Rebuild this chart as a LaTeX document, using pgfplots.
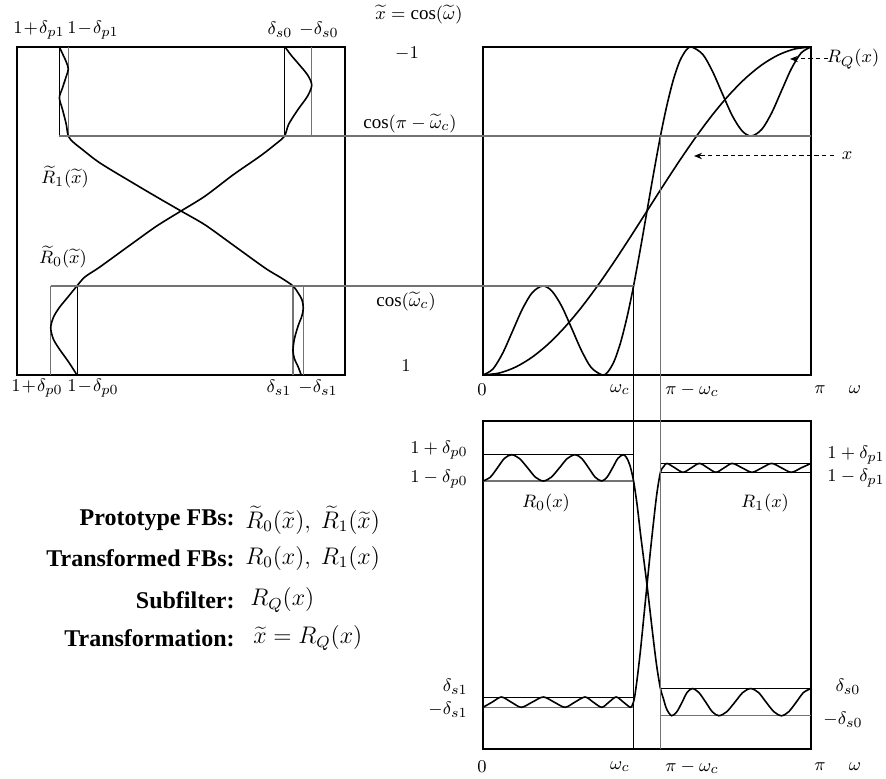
\documentclass[border=0pt]{standalone}
\usepackage{fontspec}
\setmainfont{Liberation Serif}
\usepackage{pgfplots}
\pgfplotsset{compat=1.18}
\usetikzlibrary{arrows.meta}
\pgfplotsset{panel/.style={scale only axis, width=164pt, height=164pt, ticks=none, clip=false,
  axis line style={line width=0.9pt}}}
\tikzset{crv/.style={black, line width=0.8pt, smooth, mark=none},
  gl/.style={black, line width=0.45pt},
  gg/.style={black!55, line width=0.6pt}}
\begin{document}
\begin{tikzpicture}
% ---------------- left panel: prototype filters vs x~
\begin{axis}[panel, at={(8.5pt,-23.5pt)}, anchor=north west,
  xmin=-0.2, xmax=1.2, x dir=reverse, ymin=-1, ymax=1, y dir=reverse]
  \draw[gl] (axis cs:1.019,-1) -- (axis cs:1.019,-0.457);
  \draw[gg] (axis cs:0.981,-1) -- (axis cs:0.981,-0.457);
  \draw[gl] (axis cs:0.058,-1) -- (axis cs:0.058,-0.457);
  \draw[gg] (axis cs:-0.058,-1) -- (axis cs:-0.058,-0.457);
  \draw[gg] (axis cs:1.056,0.457) -- (axis cs:1.056,1);
  \draw[gl] (axis cs:0.944,0.457) -- (axis cs:0.944,1);
  \draw[gg] (axis cs:0.022,0.457) -- (axis cs:0.022,1);
  \draw[gg] (axis cs:-0.022,0.457) -- (axis cs:-0.022,1);
  % R~1
  \addplot[crv] coordinates {
    (1.019,-1.000) (1.006,-0.96) (0.990,-0.91) (0.981,-0.866) (0.990,-0.82)
    (1.006,-0.75) (1.019,-0.69) (1.006,-0.62) (0.990,-0.53) (0.981,-0.457)
    (0.960,-0.42) (0.930,-0.385) (0.846,-0.293) (0.705,-0.171) (0.603,-0.085)
    (0.500,0.000) (0.397,0.085) (0.278,0.207) (0.141,0.348) (0.070,0.41)
    (0.022,0.457) (0.000,0.50) (-0.016,0.54) (-0.022,0.59) (-0.016,0.64)
    (0.000,0.70) (0.016,0.78) (0.022,0.85) (0.016,0.90) (0.000,0.95) (-0.013,1.00)};
  % R~0
  \addplot[crv] coordinates {
    (0.056,-1.000) (0.030,-0.95) (0.000,-0.90) (-0.040,-0.83) (-0.058,-0.768)
    (-0.040,-0.70) (0.000,-0.62) (0.040,-0.53) (0.058,-0.457)
    (0.090,-0.415) (0.162,-0.335) (0.278,-0.220) (0.397,-0.091) (0.500,0.000)
    (0.603,0.091) (0.705,0.195) (0.846,0.341) (0.910,0.402) (0.944,0.457)
    (0.980,0.52) (1.020,0.59) (1.045,0.65) (1.056,0.713) (1.045,0.78)
    (1.020,0.84) (0.980,0.92) (0.944,1.000)};
  \coordinate (Ahl) at (axis cs:1.019,-0.457);
  \coordinate (Bhl) at (axis cs:1.056,0.457);
\end{axis}
% ---------------- top right panel: R_Q(x) and x vs omega
\begin{axis}[panel, at={(241.5pt,-23.5pt)}, anchor=north west,
  xmin=0, xmax=1, ymin=-1, ymax=1, y dir=reverse]
  \addplot[crv] coordinates {
    (0,1) (0.03,0.964) (0.06,0.867) (0.09,0.733) (0.12,0.598) (0.15,0.498)
    (0.182,0.457) (0.21,0.488) (0.24,0.581) (0.27,0.714) (0.30,0.850) (0.33,0.955)
    (0.364,1) (0.38,0.983) (0.40,0.915) (0.42,0.798) (0.44,0.639) (0.459,0.457)
    (0.48,0.229) (0.50,0) (0.52,-0.229) (0.541,-0.457) (0.56,-0.639) (0.58,-0.798)
    (0.60,-0.915) (0.62,-0.983) (0.636,-1) (0.67,-0.955) (0.70,-0.850) (0.73,-0.714)
    (0.76,-0.581) (0.79,-0.488) (0.818,-0.457) (0.85,-0.498) (0.88,-0.598)
    (0.91,-0.733) (0.94,-0.867) (0.97,-0.964) (1,-1)};
  \addplot[crv] coordinates {
    (0,1) (0.05,0.9877) (0.1,0.9511) (0.15,0.8910) (0.2,0.8090) (0.25,0.7071)
    (0.3,0.5878) (0.35,0.4540) (0.4,0.3090) (0.45,0.1564) (0.5,0) (0.55,-0.1564)
    (0.6,-0.3090) (0.65,-0.4540) (0.7,-0.5878) (0.75,-0.7071) (0.8,-0.8090)
    (0.85,-0.8910) (0.9,-0.9511) (0.95,-0.9877) (1,-1)};
  \coordinate (Ahr) at (axis cs:1,-0.457);
  \coordinate (Bhr) at (axis cs:0.459,0.457);
  \coordinate (Vc2) at (axis cs:0.541,-0.457);
\end{axis}
% ---------------- bottom right panel: R0(x), R1(x) vs omega
\begin{axis}[panel, at={(241.5pt,-210.5pt)}, anchor=north west,
  xmin=0, xmax=1, ymin=-0.2, ymax=1.2]
  \draw[gl] (axis cs:0,1.056) -- (axis cs:0.459,1.056);
  \draw[gg] (axis cs:0,0.944) -- (axis cs:0.459,0.944);
  \draw[gl] (axis cs:0,0.022) -- (axis cs:0.459,0.022);
  \draw[gg] (axis cs:0,-0.022) -- (axis cs:0.459,-0.022);
  \draw[gl] (axis cs:0.541,1.019) -- (axis cs:1,1.019);
  \draw[gl] (axis cs:0.541,0.981) -- (axis cs:1,0.981);
  \draw[gl] (axis cs:0.541,0.058) -- (axis cs:1,0.058);
  \draw[gg] (axis cs:0.541,-0.058) -- (axis cs:1,-0.058);
  % R0
  \addplot[crv] coordinates {
    (0,0.944) (0.022,0.960) (0.044,1.000) (0.065,1.040) (0.087,1.056) (0.111,1.040)
    (0.136,1.000) (0.160,0.960) (0.184,0.944) (0.208,0.960) (0.233,1.000) (0.257,1.040)
    (0.281,1.056) (0.301,1.040) (0.322,1.000) (0.342,0.960) (0.362,0.944) (0.378,0.960)
    (0.395,1.000) (0.411,1.040) (0.427,1.056) (0.437,1.045) (0.448,1.010) (0.459,0.944)
    (0.470,0.84) (0.480,0.72) (0.490,0.61) (0.500,0.50) (0.510,0.38) (0.520,0.26)
    (0.530,0.15) (0.541,0.058) (0.550,0.015) (0.560,-0.030) (0.575,-0.058)
    (0.591,-0.041) (0.607,0.000) (0.622,0.041) (0.638,0.058) (0.658,0.041)
    (0.679,0.000) (0.699,-0.041) (0.719,-0.058) (0.743,-0.041) (0.768,0.000)
    (0.792,0.041) (0.816,0.058) (0.840,0.041) (0.863,0.000) (0.887,-0.041)
    (0.910,-0.058) (0.932,-0.041) (0.955,0.000) (0.977,0.041) (1.000,0.058)};
  % R1
  \addplot[crv] coordinates {
    (0,-0.022) (0.028,0) (0.056,0.022) (0.086,0) (0.117,-0.022) (0.150,0)
    (0.184,0.022) (0.217,0) (0.250,-0.022) (0.280,0) (0.311,0.022) (0.336,0)
    (0.362,-0.022) (0.384,0) (0.406,0.022) (0.428,0) (0.449,-0.022)
    (0.456,-0.010) (0.462,0.02) (0.470,0.10) (0.480,0.22) (0.490,0.36) (0.500,0.50)
    (0.510,0.64) (0.520,0.77) (0.530,0.89) (0.541,0.981) (0.551,1.006) (0.561,1.019)
    (0.585,1.000) (0.610,0.981) (0.635,1.000) (0.660,1.019) (0.685,1.000) (0.710,0.981)
    (0.735,1.000) (0.760,1.019) (0.790,1.000) (0.820,0.981) (0.850,1.000) (0.880,1.019)
    (0.910,1.000) (0.940,0.981) (0.970,1.000) (1.000,1.019)};
  \coordinate (Wc1) at (axis cs:0.459,-0.2);
  \coordinate (Wc2) at (axis cs:0.541,-0.2);
\end{axis}
% guide lines across panels
\draw[gg] (Ahl) -- (Ahr);
\draw[gg] (Bhl) -- (Bhr);
\draw[gl] (Bhr) -- (Wc1);
\draw[gg, line width=0.8pt] (Vc2) -- (Wc2);
% labels (pixel coordinates)
\begin{scope}[x=0.5pt, y=-0.5pt, every node/.style={font=\fontsize{9.5}{11}\selectfont, inner sep=0pt}]
  \path (0,0) rectangle (886,779);
  \node at (39,30) {$1\!+\!\delta_{p1}$};
  \node at (93,30) {$1\!-\!\delta_{p1}$};
  \node at (280,30) {$\delta_{s0}$};
  \node at (319,30) {$-\delta_{s0}$};
  \node at (37,388) {$1\!+\!\delta_{p0}$};
  \node at (93,388) {$1\!-\!\delta_{p0}$};
  \node at (279,388) {$\delta_{s1}$};
  \node at (318,388) {$-\delta_{s1}$};
  \node at (65,177) {$\widetilde{R}_1(\widetilde{x})$};
  \node at (63,257) {$\widetilde{R}_0(\widetilde{x})$};
  \node at (419,15) {$\widetilde{x}=\cos(\widetilde{\omega})$};
  \node at (407,54) {$-1$};
  \node at (410,124) {$\cos(\pi-\widetilde{\omega}_c)$};
  \node at (406,302) {$\cos(\widetilde{\omega}_c)$};
  \node at (406,366) {$1$};
  \foreach \yy in {390,767} {
    \node at (482,\yy) {$0$};
    \node at (620,\yy) {$\omega_c$};
    \node at (692,\yy) {$\pi-\omega_c$};
    \node at (820,\yy) {$\pi$};
    \node at (855,\yy) {$\omega$};
  }
  \node[anchor=east] at (468,450) {$1+\delta_{p0}$};
  \node[anchor=east] at (468,479) {$1-\delta_{p0}$};
  \node[anchor=east] at (468,687) {$\delta_{s1}$};
  \node[anchor=east] at (468,710) {$-\delta_{s1}$};
  \node[anchor=west] at (827,455) {$1+\delta_{p1}$};
  \node[anchor=west] at (827,478) {$1-\delta_{p1}$};
  \node at (848,687) {$\delta_{s0}$};
  \node at (843,720) {$-\delta_{s0}$};
  \node at (546,503) {$R_0(x)$};
  \node at (765,503) {$R_1(x)$};
  \node at (853,59) {$R_Q(x)$};
  \node at (847,156) {$x$};
  \draw[line width=0.5pt, dash pattern=on 2.2pt off 1.6pt, -{Stealth[length=4pt,width=3.2pt]}] (828,59) -- (790,59);
  \draw[line width=0.5pt, dash pattern=on 2.2pt off 1.6pt, -{Stealth[length=4pt,width=3.2pt]}] (834,156) -- (694,156);
  \begin{scope}[every node/.style={font=\fontsize{12}{14}\selectfont, inner sep=0pt}]
    \node[anchor=east] at (235,520) {\textbf{Prototype FBs:}};
    \node[anchor=west] at (245,520) {$\widetilde{R}_0(\widetilde{x}),\ \widetilde{R}_1(\widetilde{x})$};
    \node[anchor=east] at (235,558) {\textbf{Transformed FBs:}};
    \node[anchor=west] at (245,558) {$R_0(x),\ R_1(x)$};
    \node[anchor=east] at (235,600) {\textbf{Subfilter:}};
    \node[anchor=west] at (250,600) {$R_Q(x)$};
    \node[anchor=east] at (235,638) {\textbf{Transformation:}};
    \node[anchor=west] at (253,638) {$\widetilde{x}=R_Q(x)$};
  \end{scope}
\end{scope}
\end{tikzpicture}
\end{document}
